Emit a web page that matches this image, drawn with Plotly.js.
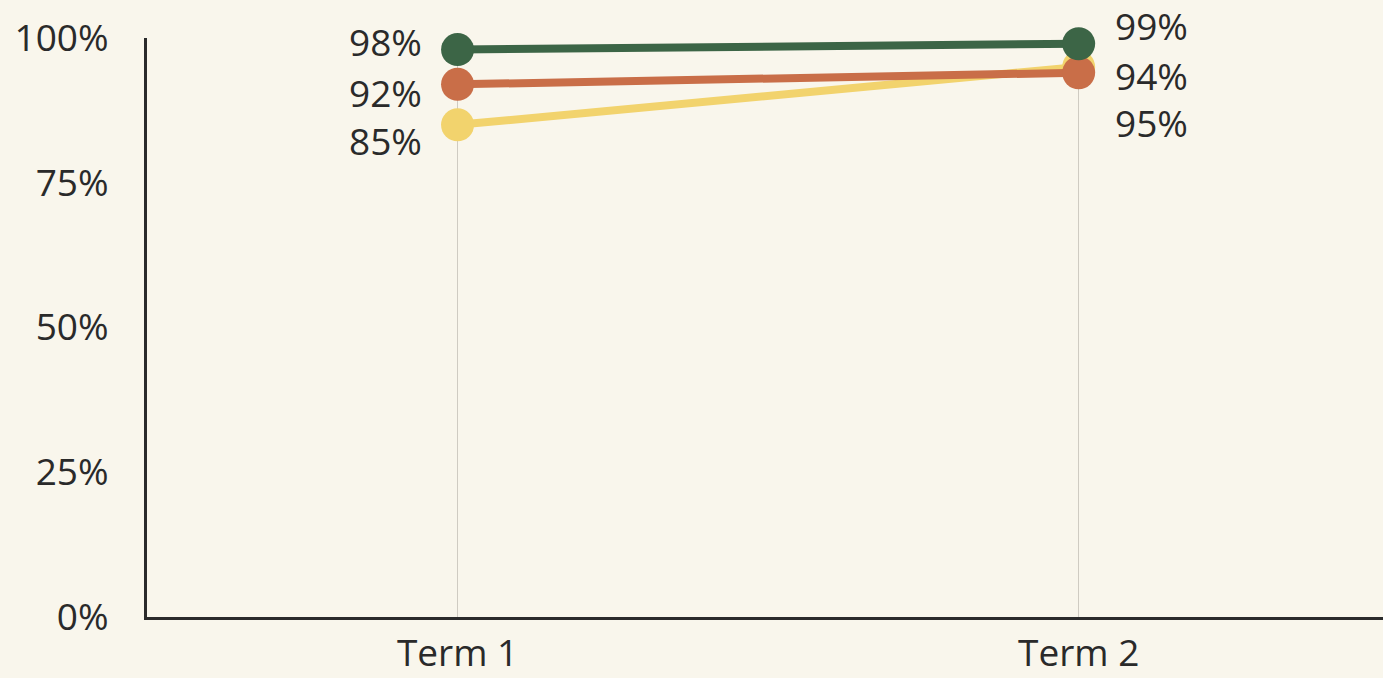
<!DOCTYPE html>
<html>
<head>
<meta charset="utf-8">
<script src="https://cdn.plot.ly/plotly-3.0.1.min.js"></script>
<style>
  html, body { margin: 0; padding: 0; background: #f9f6ec; }
  #chart { width: 1383px; height: 678px; }
</style>
</head>
<body>
<div id="chart"></div>
<script>
const terms = ['Term 1', 'Term 2'];
const seriesNames = ['Series C', 'Series B', 'Series A'];
const valuesC = [85, 95];
const valuesB = [92, 94];
const valuesA = [98, 99];
const yTicks = [0, 25, 50, 75, 100];
const yTickText = ['0%', '25%', '50%', '75%', '100%'];

const colors = ['#f2d36d', '#c96e48', '#3c6546'];
const allValues = [valuesC, valuesB, valuesA];

const traces = allValues.map((vals, i) => ({
  type: 'scatter',
  mode: 'lines+markers',
  name: seriesNames[i],
  x: terms,
  y: vals,
  cliponaxis: false,
  line: { color: colors[i], width: 8 },
  marker: { color: colors[i], size: 33 },
  hoverinfo: 'skip'
}));

// label offsets (style only): [term1 yshift, term2 yshift]
const labelShift = [[-16, -56], [-8, -3], [8, 18]];
const annotations = [];
allValues.forEach((vals, i) => {
  vals.forEach((v, j) => {
    annotations.push({
      x: terms[j], y: v, xref: 'x', yref: 'y',
      text: v + '%', showarrow: false,
      xanchor: j === 0 ? 'right' : 'left',
      yanchor: 'middle',
      xshift: j === 0 ? -34 : 34,
      yshift: labelShift[i][j],
      font: { family: 'Open Sans, sans-serif', size: 37, color: '#2a2a2a' }
    });
  });
});

const layout = {
  width: 1383, height: 678,
  margin: { l: 147, r: 0, t: 38, b: 61 },
  paper_bgcolor: '#f9f6ec',
  plot_bgcolor: '#f9f6ec',
  showlegend: false,
  font: { family: 'Open Sans, sans-serif', size: 37, color: '#2a2a2a' },
  xaxis: {
    type: 'category',
    range: [-0.5, 1.49],
    showgrid: true,
    gridcolor: '#cfcbc2',
    gridwidth: 1.5,
    showline: true,
    linecolor: '#2b2b2b',
    linewidth: 3,
    ticks: '',
    ticklabelstandoff: 2,
    zeroline: false,
    fixedrange: true
  },
  yaxis: {
    range: [0, 100],
    tickvals: yTicks,
    ticktext: yTickText,
    showgrid: false,
    showline: true,
    linecolor: '#2b2b2b',
    linewidth: 3,
    ticks: '',
    ticklabelstandoff: 28,
    zeroline: false,
    fixedrange: true
  },
  annotations: annotations
};

Plotly.newPlot('chart', traces, layout, { displayModeBar: false, staticPlot: true });
</script>
</body>
</html>
